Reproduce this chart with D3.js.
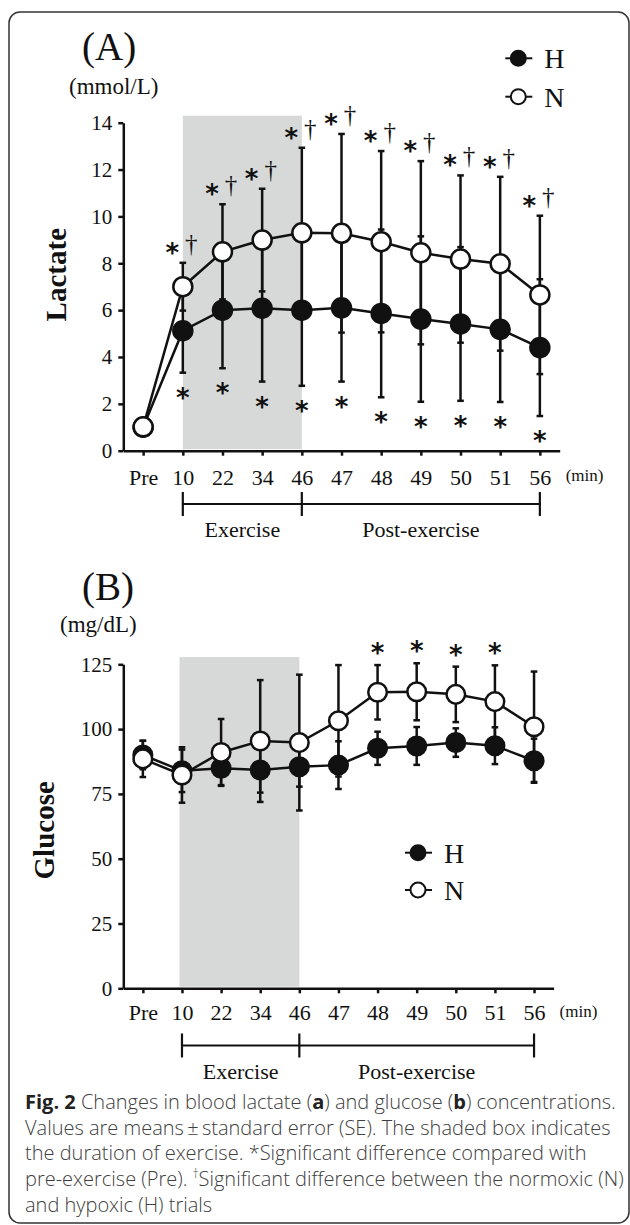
<!DOCTYPE html>
<html>
<head>
    <title>Lactate and glucose</title>
    <script src="https://cdnjs.cloudflare.com/ajax/libs/d3/7.8.5/d3.min.js"></script>
    <style>
        body { margin: 0; background: #fff; }
        svg text { font-family: "Liberation Serif", "Times New Roman", serif; fill: #111; }
        .cap text { font-family: "Open Sans", sans-serif; fill: #404040; font-weight: 300; }
    </style>
</head>
<body>
    <div id="chart"></div>
    <script>
        // time points
        const times = ["Pre", "10", "22", "34", "46", "47", "48", "49", "50", "51", "56"]

        // (A) lactate, mmol/L, mean and SE
        const lactateH = [1.0, 5.12, 6.0, 6.08, 6.0, 6.1, 5.86, 5.62, 5.41, 5.18, 4.4]
        const lactateHse = [0.15, 1.79, 2.48, 3.13, 3.23, 3.15, 3.58, 3.53, 3.28, 3.1, 2.92]
        const lactateN = [1.02, 7.0, 8.49, 8.99, 9.3, 9.28, 8.92, 8.45, 8.18, 7.98, 6.65]
        const lactateNse = [0.15, 1.02, 2.03, 2.19, 3.63, 4.24, 3.87, 3.91, 3.57, 3.71, 3.38]
        const lactateTicks = [0, 2, 4, 6, 8, 10, 12, 14]
        // significance marks: * vs Pre, dagger H vs N
        const lactateStarN = [0, 1, 1, 1, 1, 1, 1, 1, 1, 1, 1]
        const lactateDagger = [0, 1, 1, 1, 1, 1, 1, 1, 1, 1, 1]
        const lactateStarH = [0, 1, 1, 1, 1, 1, 1, 1, 1, 1, 1]

        // (B) glucose, mg/dL, mean and SE
        const glucoseH = [90, 83.9, 84.9, 84.2, 85.5, 86.1, 92.6, 93.5, 94.8, 93.6, 87.8]
        const glucoseHse = [5.5, 8.2, 6.5, 8.7, 7.7, 9.2, 6.4, 7.3, 5.5, 7.1, 8.5]
        const glucoseN = [88.5, 82.3, 91.0, 95.4, 94.8, 103.2, 114.2, 114.4, 113.4, 110.6, 100.9]
        const glucoseNse = [7, 10.7, 12.9, 23.5, 26.2, 21.5, 10.5, 11, 10.7, 14, 21.3]
        const glucoseTicks = [0, 25, 50, 75, 100, 125]
        const glucoseStarN = [0, 0, 0, 0, 0, 0, 1, 1, 1, 1, 0]
        const glucoseDagger = [0, 0, 0, 0, 0, 0, 0, 0, 0, 0, 0]
        const glucoseStarH = [0, 0, 0, 0, 0, 0, 0, 0, 0, 0, 0]

        const phases = [["10", "46", "Exercise"], ["46", "56", "Post-exercise"]]

        const INK = "#111"
        let svg = d3.select("#chart").append("svg").attr("width", 630).attr("height", 1225)

        svg.append("rect").attr("x", 9).attr("y", 12).attr("width", 620).attr("height", 1211)
            .attr("rx", 11).attr("fill", "none").attr("stroke", "#333").attr("stroke-width", 1.5)

        function star(g, cx, cy) {
            g.append("text").attr("x", cx).attr("y", cy + 15).attr("text-anchor", "middle")
                .style("font-family", "DejaVu Sans").attr("font-weight", "bold").attr("font-size", 26).text("*")
        }

        function drawPanel(p) {
            let x = d3.scalePoint().domain(times).range([p.left, p.right]).padding(0.5)
            let y = d3.scaleLinear().domain([0, p.max]).range([p.bottom, p.top])
            let g = svg.append("g")

            // shaded exercise box
            g.append("rect").attr("x", x("10") + p.shadeDx).attr("y", y(p.shadeTop))
                .attr("width", x("46") - x("10") - p.shadeDx).attr("height", y(0) - y(p.shadeTop) - 1.5)
                .attr("fill", "#d7d9d8")

            // axes
            let ya = g.append("g").attr("transform", `translate(${p.left},0)`)
                .call(d3.axisLeft(y).tickValues(p.ticks).tickSize(5).tickSizeOuter(0).tickPadding(6))
            let xa = g.append("g").attr("transform", `translate(0,${y(0)})`)
                .call(d3.axisBottom(x).tickSize(5).tickSizeOuter(0).tickPadding(p.xPad))
            ;[ya, xa].forEach(a => {
                a.selectAll("path,line").attr("stroke", INK).attr("stroke-width", 2.5)
                a.selectAll("text").attr("fill", INK).style("font-family", "Liberation Serif")
            })
            ya.selectAll("text").attr("font-size", 21)
            xa.selectAll("text").attr("font-size", 22)
            g.append("text").attr("x", p.right + 6).attr("y", y(0) + p.minDy).attr("font-size", 17).text("(min)")

            // error bars, H first then N
            let series = [
                { v: p.H, se: p.Hse, fill: INK },
                { v: p.N, se: p.Nse, fill: "#fff" }
            ]
            series.forEach(s => {
                s.v.forEach((v, i) => {
                    let cx = x(times[i]), lo = y(v - s.se[i]), hi = y(v + s.se[i])
                    g.append("line").attr("x1", cx).attr("x2", cx).attr("y1", lo).attr("y2", hi)
                        .attr("stroke", INK).attr("stroke-width", 2.5)
                    ;[lo, hi].forEach(yy => g.append("line").attr("x1", cx - 3.3).attr("x2", cx + 3.3)
                        .attr("y1", yy).attr("y2", yy).attr("stroke", INK).attr("stroke-width", 2.5))
                })
            })
            let line = d3.line().x((d, i) => x(times[i])).y(d => y(d))
            series.forEach(s => {
                g.append("path").attr("d", line(s.v)).attr("fill", "none")
                    .attr("stroke", INK).attr("stroke-width", 2.5)
            })
            series.forEach(s => {
                s.v.forEach((v, i) => {
                    g.append("circle").attr("cx", x(times[i])).attr("cy", y(v)).attr("r", p.r)
                        .attr("fill", s.fill).attr("stroke", INK).attr("stroke-width", 2.5)
                })
            })

            // significance marks
            p.N.forEach((v, i) => {
                let top = y(v + p.Nse[i]) - p.markUp
                let cx = x(times[i])
                if (p.starN[i]) star(g, cx + (p.dagger[i] ? -10.5 : 0), top)
                if (p.dagger[i]) {
                    g.append("text").attr("x", cx + 8.5).attr("y", top + 5).attr("text-anchor", "middle")
                        .attr("font-size", 25).text("\u2020")
                }
            })
            p.H.forEach((v, i) => {
                if (p.starH[i]) star(g, x(times[i]), y(v - p.Hse[i]) + 19)
            })

            // phase bracket
            let by = p.bracketY
            g.append("line").attr("x1", x("10")).attr("x2", x("56")).attr("y1", by).attr("y2", by)
                .attr("stroke", INK).attr("stroke-width", 2.2)
            ;["10", "46", "56"].forEach(t => g.append("line").attr("x1", x(t)).attr("x2", x(t))
                .attr("y1", by - 12).attr("y2", by + 12).attr("stroke", INK).attr("stroke-width", 2.2))
            phases.forEach(ph => {
                g.append("text").attr("x", (x(ph[0]) + x(ph[1])) / 2).attr("y", by + 33)
                    .attr("text-anchor", "middle").attr("font-size", 22).text(ph[2])
            })

            // titles
            g.append("text").attr("x", 82).attr("y", p.titleY).attr("font-size", 39).text(p.title)
            g.append("text").attr("x", p.unitX).attr("y", p.unitY).attr("font-size", 23).text(p.unit)
            g.append("text").attr("transform", `translate(${p.labelX},${(y(0) + y(p.max)) / 2 + p.labelDy}) rotate(-90)`)
                .attr("text-anchor", "middle").attr("font-size", 29).attr("font-weight", "bold").text(p.label)

            // legend
            ;[["H", INK], ["N", "#fff"]].forEach((d, i) => {
                let ly = p.legY + i * p.legGap
                g.append("line").attr("x1", p.legX - 13).attr("x2", p.legX + 14).attr("y1", ly).attr("y2", ly)
                    .attr("stroke", INK).attr("stroke-width", 2)
                g.append("circle").attr("cx", p.legX).attr("cy", ly).attr("r", 7.5)
                    .attr("fill", d[1]).attr("stroke", INK).attr("stroke-width", 2)
                g.append("text").attr("x", p.legX + 26).attr("y", ly + 10).attr("font-size", 28).text(d[0])
            })
        }

        drawPanel({
            left: 123.3, right: 559.7, top: 122.7, bottom: 450.7, max: 14, ticks: lactateTicks,
            H: lactateH, Hse: lactateHse, N: lactateN, Nse: lactateNse,
            starN: lactateStarN, dagger: lactateDagger, starH: lactateStarH,
            shadeTop: 14.3, shadeDx: 0, xPad: 13.5, minDy: 30, r: 9.5, markUp: 16,
            bracketY: 504, title: "(A)", titleY: 60, unit: "(mmol/L)", unitX: 69, unitY: 94,
            label: "Lactate", labelX: 66, labelDy: -12, legX: 518.3, legY: 58.3, legGap: 38.4
        })

        drawPanel({
            left: 123.3, right: 553.6, top: 664.3, bottom: 988.3, max: 125, ticks: glucoseTicks,
            H: glucoseH, Hse: glucoseHse, N: glucoseN, Nse: glucoseNse,
            starN: glucoseStarN, dagger: glucoseDagger, starH: glucoseStarH,
            shadeTop: 127.8, shadeDx: -2.5, xPad: 11, minDy: 28.5, r: 9.3, markUp: 18,
            bracketY: 1045.5, title: "(B)", titleY: 600, unit: "(mg/dL)", unitX: 60, unitY: 632,
            label: "Glucose", labelX: 54, labelDy: 4, legX: 418, legY: 852.7, legGap: 37.3
        })

        // caption
        let cap = svg.append("g").attr("class", "cap")
        const captionLines = [
            [["Fig. 2", 1], [" Changes in blood lactate (", 0], ["a", 1], [") and glucose (", 0], ["b", 1], [") concentrations.", 0]],
            [["Values are means\u2009\u00b1\u2009standard error (SE). The shaded box indicates", 0]],
            [["the duration of exercise. *Significant difference compared with", 0]],
            [["pre-exercise (Pre). ", 0], ["\u2020", 2], ["Significant difference between the normoxic (N)", 0]],
            [["and hypoxic (H) trials", 0]]
        ]
        let capTexts = captionLines.map((parts, i) => {
            let t = cap.append("text").attr("x", 25).attr("y", 1109 + i * 25.7).attr("font-size", 20)
            parts.forEach(pt => {
                let s = t.append("tspan").text(pt[0])
                if (pt[1] === 1) s.style("font-weight", "bold").style("fill", "#222")
                if (pt[1] === 2) s.attr("data-sup", 1)
            })
            return t
        })
        // fit the first line to the printed width
        let w0 = capTexts[0].node().getComputedTextLength()
        let fs = 20 * 591 / w0
        capTexts.forEach(t => {
            t.attr("font-size", fs)
            t.selectAll("tspan").each(function () {
                let s = d3.select(this)
                if (s.attr("data-sup")) {
                    s.attr("font-size", fs * 0.6).attr("dy", -fs * 0.4)
                    d3.select(this.nextSibling).attr("dy", fs * 0.4)
                }
            })
        })
    </script>
</body>
</html>
